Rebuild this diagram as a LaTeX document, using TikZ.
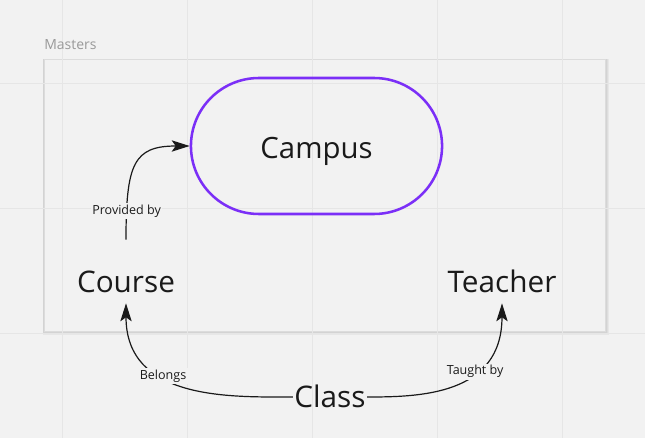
\documentclass[tikz,border=0pt]{standalone}
\usepackage{fontspec}
\setmainfont{Open Sans}
\usetikzlibrary{arrows.meta,shapes.misc}
\definecolor{boardgray}{HTML}{F2F2F2}
\definecolor{gridgray}{HTML}{E6E6E6}
\definecolor{framegray}{HTML}{DCDCDC}
\definecolor{campuspurple}{HTML}{7B2FF7}
\definecolor{inkblack}{HTML}{1A1A1A}

\begin{document}
\begin{tikzpicture}[x=0.75pt,y=-0.75pt]

\tikzstyle{gridline}=[draw=gridgray, line width=0.7pt]
\tikzstyle{frame}=[draw=framegray, fill=boardgray, line width=0.5pt]
\tikzstyle{campus}=[rounded rectangle, draw=campuspurple, line width=1.9pt,
    minimum width=195pt, minimum height=102pt, text height=19pt, text depth=0pt,
    text=inkblack, font=\fontsize{22}{26}\selectfont]
\tikzstyle{entity}=[inner sep=0pt, text height=39.4pt, text depth=7.9pt, anchor=base,
    text=inkblack, font=\fontsize{22.3}{26}\selectfont]
\tikzstyle{classnode}=[inner xsep=1pt, inner ysep=0pt, text height=15.75pt, text depth=0pt, anchor=base,
    text=inkblack, font=\fontsize{22.3}{26}\selectfont]
\tikzstyle{link}=[draw=inkblack, line width=0.9pt, -{Stealth[length=13.5pt, width=8.5pt, inset=3pt]}]
\tikzstyle{linklabel}=[fill=boardgray, inner sep=1.2pt, text=inkblack, font=\fontsize{9.4}{11}\selectfont]

\fill[boardgray] (0,0) rectangle (645,438);
\useasboundingbox (0,0) rectangle (645,438);

% board with a soft shadow
\foreach \s in {1,...,4}
    \fill[black, opacity=0.045] (44-0.3*\s,59) rectangle (605+\s,331+\s);
\filldraw[frame] (44,59) rectangle (605,331);
\foreach \gx in {62,187,312,437,562}
    \draw[gridline] (\gx,0) -- (\gx,438);
\foreach \gy in {83,208,333}
    \draw[gridline] (0,\gy) -- (645,\gy);
\node (masters) [anchor=base west, inner sep=0pt, text=gray!80, font=\fontsize{10.5}{12}\selectfont] at (44,49.5) {Masters};

\node (Campus) [campus] at (316.5,146) {Campus};
\node (Course) [entity] at (126,292.5) {Course};
\node (Teacher) [entity] at (502,292.5) {Teacher};
\node (Class) [classnode] at (330,407.5) {Class};

\draw[link] (Course.north) .. controls +(0,-76) and +(-56,0) .. node[linklabel, pos=0.14] {Provided by} (Campus.west);
\draw[link] (Class.west) .. controls +(-63,0) and +(0,97) .. node[linklabel, pos=0.62] {Belongs} (Course.south);
\draw[link] (Class.east) .. controls +(52,0) and +(0,92) .. node[linklabel, pos=0.64] {Taught by} (Teacher.south);
\end{tikzpicture}
\end{document}
